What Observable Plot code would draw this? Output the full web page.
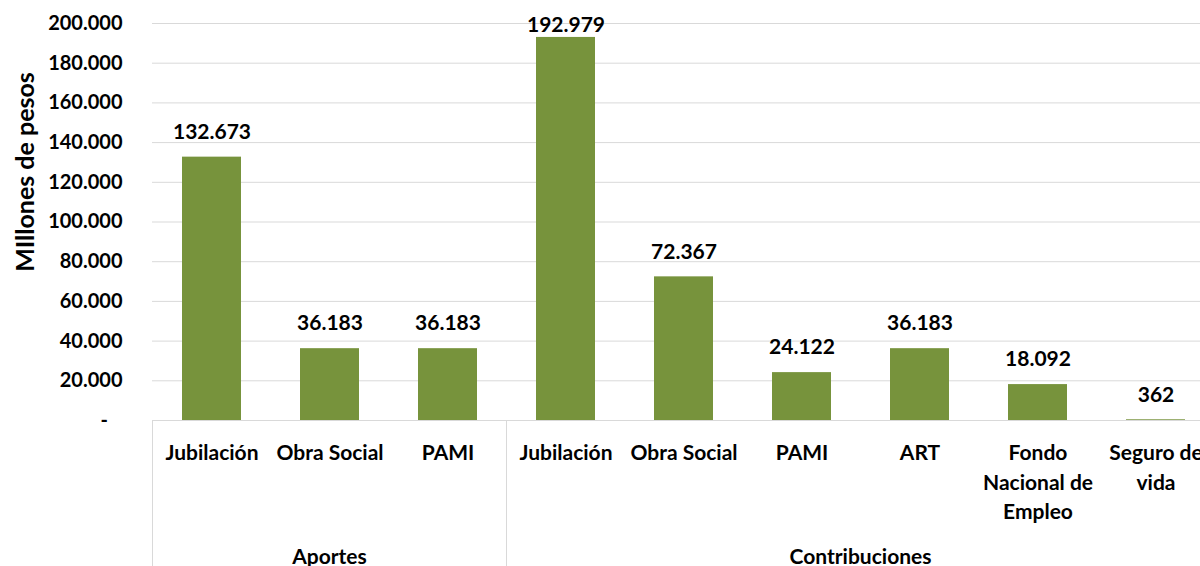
<!DOCTYPE html>
<html>
<head>
<meta charset="utf-8">
<script src="https://cdn.jsdelivr.net/npm/d3@7"></script>
<script src="https://cdn.jsdelivr.net/npm/@observablehq/plot@0.6"></script>
<style>
html, body { margin: 0; padding: 0; overflow: hidden; background: #fff; }
</style>
</head>
<body>
<div id="chart"></div>
<script>
const groups = ["Aportes", "Aportes", "Aportes", "Contribuciones", "Contribuciones", "Contribuciones", "Contribuciones", "Contribuciones", "Contribuciones"];
const categories = ["Jubilación", "Obra Social", "PAMI", "Jubilación", "Obra Social", "PAMI", "ART", "Fondo Nacional de Empleo", "Seguro de vida"];
const categoryLabels = ["Jubilación", "Obra Social", "PAMI", "Jubilación", "Obra Social", "PAMI", "ART", "Fondo\nNacional de\nEmpleo", "Seguro de\nvida"];
const values = [132673, 36183, 36183, 192979, 72367, 24122, 36183, 18092, 362];
const yTicks = [0, 20000, 40000, 60000, 80000, 100000, 120000, 140000, 160000, 180000, 200000];
const yTitle = "MIllones de pesos";

const fmt = d3.formatLocale({decimal: ",", thousands: ".", grouping: [3], currency: ["$", ""]}).format(",.0f");
const data = categories.map((c, i) => ({key: groups[i] + "|" + c, label: categoryLabels[i], group: groups[i], value: values[i]}));
const keys = data.map(d => d.key);
const labelByKey = new Map(data.map(d => [d.key, d.label]));
const FONT = "Lato, 'Open Sans', sans-serif";

function groupMark(index, scales, values, dimensions) {
  const x = scales.x;
  const bw = x.bandwidth();
  const step = x.step();
  const pad = (step - bw) / 2;
  const yBase = dimensions.height - dimensions.marginBottom;
  const g = d3.create("svg:g");
  const names = [...new Set(groups)];
  const edges = new Set();
  const spans = names.map(n => {
    const ks = data.filter(d => d.group === n).map(d => d.key);
    const x0 = x(ks[0]) - pad;
    const x1 = x(ks[ks.length - 1]) + bw + pad;
    edges.add(x0); edges.add(x1);
    return {n, x0, x1};
  });
  for (const e of edges) {
    g.append("line").attr("x1", e).attr("x2", e).attr("y1", yBase).attr("y2", dimensions.height)
      .attr("stroke", "#d9d9d9").attr("stroke-width", 1);
  }
  for (const s of spans) {
    g.append("text").attr("x", (s.x0 + s.x1) / 2).attr("y", dimensions.height - 7)
      .attr("text-anchor", "middle").attr("dominant-baseline", "middle")
      .attr("font-family", FONT).attr("font-weight", "bold").attr("font-size", 21).attr("fill", "#000")
      .text(s.n);
  }
  return g.node();
}

const chart = Plot.plot({
  width: 1200,
  height: 566,
  marginLeft: 152,
  marginRight: -14,
  marginTop: 23,
  marginBottom: 146,
  style: {fontFamily: FONT, background: "#fff", color: "#000"},
  x: {domain: keys, paddingInner: 0.5, paddingOuter: 0.25, axis: null, label: null},
  y: {domain: [0, 200000], axis: null, label: null},
  marks: [
    Plot.gridY(yTicks, {stroke: "#d9d9d9", strokeOpacity: 1, strokeWidth: 1}),
    Plot.ruleY([0], {stroke: "#d9d9d9", strokeWidth: 1}),
    Plot.barY(data, {x: "key", y: "value", fill: "#77933c"}),
    Plot.text(data, {filter: d => d.value < 180000, x: "key", y: "value", text: d => fmt(d.value), dy: -25, fontSize: 21, fontWeight: "bold", fill: "#000"}),
    Plot.text(data, {filter: d => d.value >= 180000, x: "key", y: "value", text: d => fmt(d.value), dy: -12, fontSize: 21, fontWeight: "bold", fill: "#000"}),
    Plot.axisY({ticks: yTicks, tickSize: 0, tickPadding: 30, label: null, tickFormat: d => d === 0 ? "-\u00a0\u00a0\u00a0" : fmt(d), fontSize: 20, fontWeight: "bold", fill: "#000"}),
    Plot.axisX({tickSize: 0, tickPadding: 19, label: null, tickFormat: k => labelByKey.get(k), lineHeight: 1.4, fontSize: 21, fontWeight: "bold", fill: "#000"}),
    groupMark,
    Plot.text([yTitle], {text: d => d, frameAnchor: "left", textAnchor: "middle", rotate: -90, dx: -127, dy: -50, fontSize: 25, fontWeight: "bold", fill: "#000"})
  ]
});
document.getElementById("chart").appendChild(chart);
</script>
</body>
</html>
